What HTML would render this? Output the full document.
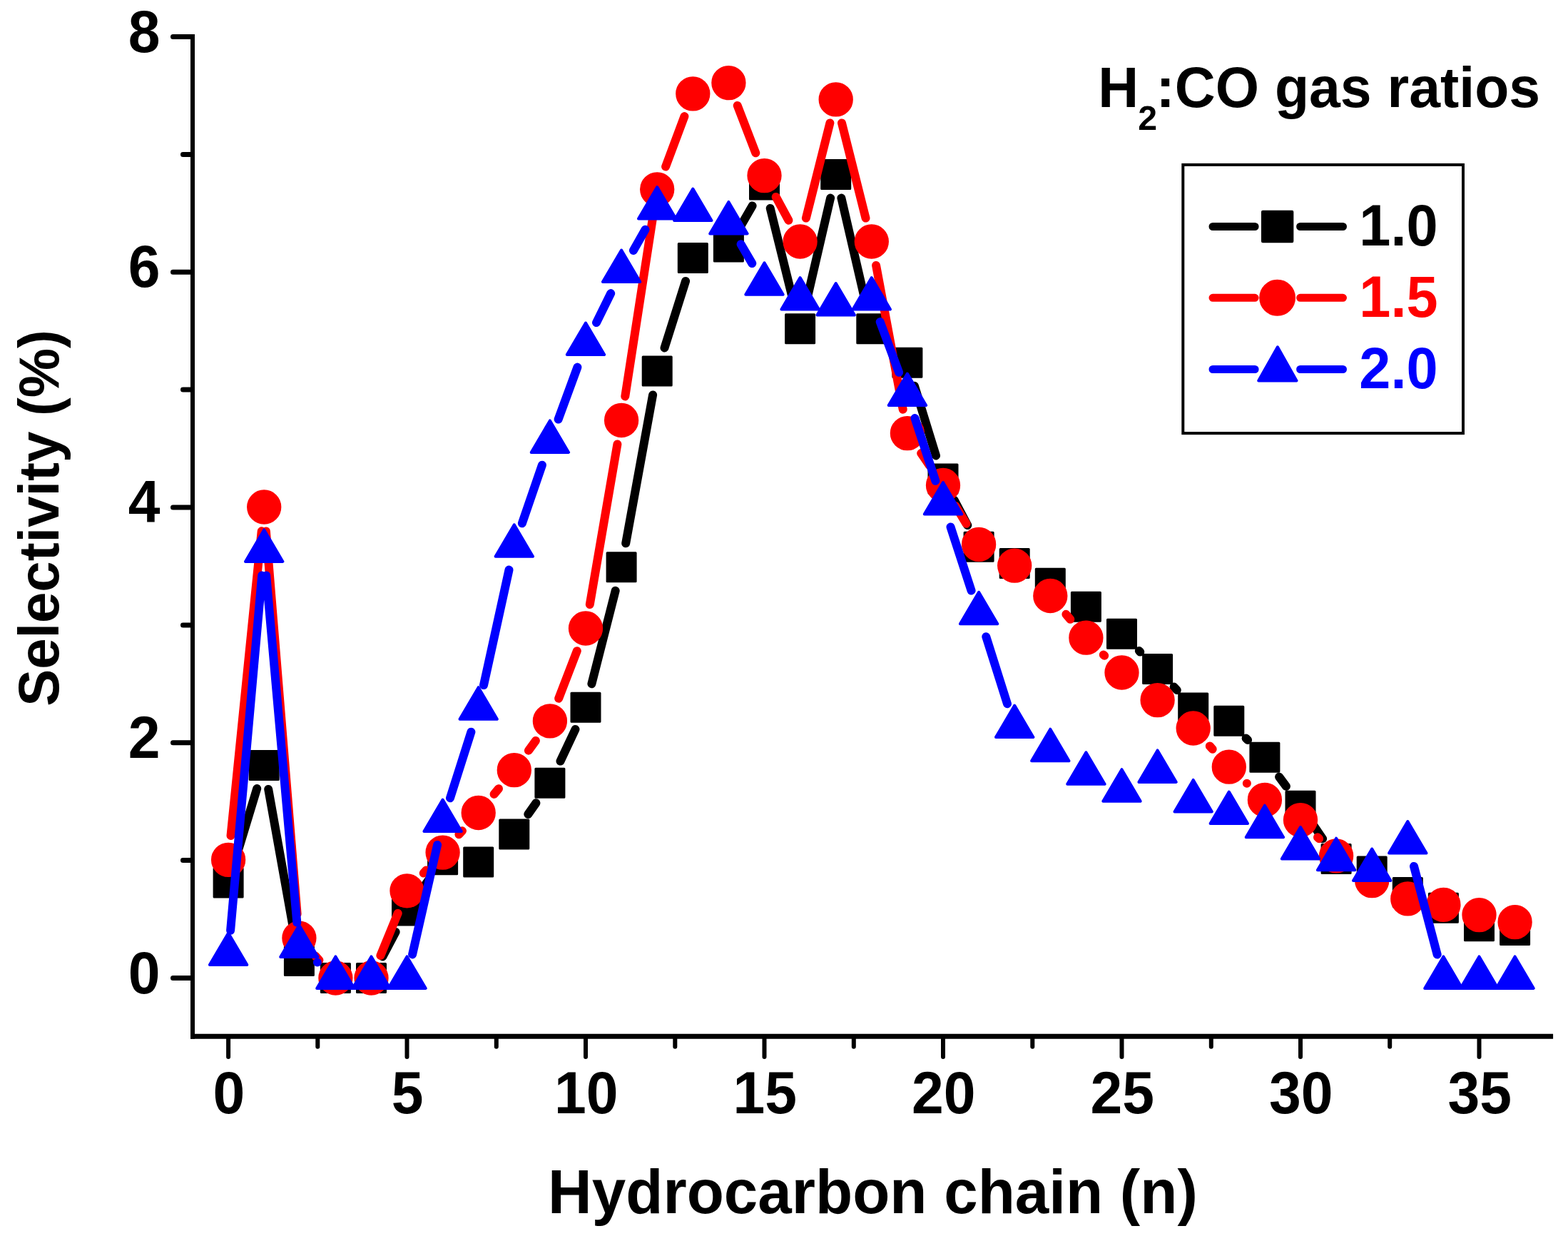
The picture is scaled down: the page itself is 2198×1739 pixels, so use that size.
<!DOCTYPE html>
<html lang="en"><head><meta charset="utf-8"><title>Selectivity vs hydrocarbon chain</title>
<style>
html,body{margin:0;padding:0;background:#fff;}
body{width:2198px;height:1739px;overflow:hidden;}
svg{display:block;}
text{font-family:"Liberation Sans",sans-serif;font-weight:bold;}
.ln{fill:none;stroke-width:12;stroke-linecap:round;}
</style></head><body>
<svg width="2198" height="1739" viewBox="0 0 2198 1739" role="img" aria-label="Selectivity (%) versus hydrocarbon chain length (n) for three H2:CO gas ratios">
<rect width="2198" height="1739" fill="#fff"/>
<g fill="none" stroke="#000" stroke-linecap="round">
<path stroke-width="7" d="M269 1370.5H242.5M269 1205.6H256.5M269 1040.8H242.5M269 875.9H256.5M269 711H242.5M269 546.1H256.5M269 381.2H242.5M269 216.4H256.5M269 51.5H242.5"/>
<path stroke-width="6" d="M320.1 1453.3V1481.1M445.3 1453.3V1466.7M570.5 1453.3V1481.1M695.8 1453.3V1466.7M821 1453.3V1481.1M946.3 1453.3V1466.7M1071.5 1453.3V1481.1M1196.8 1453.3V1466.7M1322 1453.3V1481.1M1447.3 1453.3V1466.7M1572.5 1453.3V1481.1M1697.8 1453.3V1466.7M1823 1453.3V1481.1M1948.2 1453.3V1466.7M2073.5 1453.3V1481.1"/>
<path stroke-width="6" stroke-linecap="butt" d="M270 48V1455.8"/>
<path stroke-width="7" stroke-linecap="butt" d="M267 1452.3H2177.1"/>
</g>
<g fill="#000">
<text transform="translate(224.6 1391.6) scale(0.965 1)" font-size="83.4" text-anchor="end">0</text>
<text transform="translate(224.6 1061.8) scale(0.965 1)" font-size="83.4" text-anchor="end">2</text>
<text transform="translate(224.6 732.1) scale(0.965 1)" font-size="83.4" text-anchor="end">4</text>
<text transform="translate(224.6 402.4) scale(0.965 1)" font-size="83.4" text-anchor="end">6</text>
<text transform="translate(224.6 72.6) scale(0.965 1)" font-size="83.4" text-anchor="end">8</text>
<text transform="translate(320.8 1560.2) scale(0.965 1)" font-size="83.4" text-anchor="middle">0</text>
<text transform="translate(571.2 1560.2) scale(0.965 1)" font-size="83.4" text-anchor="middle">5</text>
<text transform="translate(821.7 1560.2) scale(0.965 1)" font-size="83.4" text-anchor="middle">10</text>
<text transform="translate(1072.2 1560.2) scale(0.965 1)" font-size="83.4" text-anchor="middle">15</text>
<text transform="translate(1322.7 1560.2) scale(0.965 1)" font-size="83.4" text-anchor="middle">20</text>
<text transform="translate(1573.2 1560.2) scale(0.965 1)" font-size="83.4" text-anchor="middle">25</text>
<text transform="translate(1823.7 1560.2) scale(0.965 1)" font-size="83.4" text-anchor="middle">30</text>
<text transform="translate(2074.2 1560.2) scale(0.965 1)" font-size="83.4" text-anchor="middle">35</text>
</g>
<text transform="translate(1223.5 1700) scale(0.9815 1)" font-size="87" text-anchor="middle">Hydrocarbon chain (n)</text>
<text transform="translate(81.7 725.9) rotate(-90) scale(0.967 1)" font-size="80.5" text-anchor="middle">Selectivity (%)</text>
<g fill="#000" stroke="#000">
<path class="ln" d="M330 1204.4L360.2 1105.1M376.2 1106L413.3 1313.1M536.4 1340.5L554.6 1305.9M590.1 1248.1L601.1 1232.6M740.3 1141L751.4 1125.2M785.5 1066.6L806.5 1022M829.4 958.3L862.7 827.7M877.2 761.3L915.1 553.4M931.5 487.5L961.1 393.9M1038.4 316.5L1054.6 288.4M1079.7 291.9L1113.4 427.7M1129.3 427.6L1164.1 277.5M1179.4 277.5L1214.2 427.6M1246.5 484.1L1247.2 484.8M1281.9 540.7L1312 638.4M1337.8 701L1356.3 736.1M1596.8 912L1598.3 913.6M1645.6 962.5L1649.8 967M1746.6 1034.5L1749.1 1037M1793.1 1088.6L1802.9 1101.9M1842 1157.5L1854.1 1175.3"/>
<g stroke-linejoin="round">
<rect x="300.1" y="1217" width="40" height="40" stroke-width="3"/><rect x="350.2" y="1052.6" width="40" height="40" stroke-width="3"/><rect x="399.4" y="1326.6" width="40" height="40" stroke-width="3"/><rect x="450.4" y="1350.5" width="40" height="40" stroke-width="3"/><rect x="500.5" y="1350.5" width="40" height="40" stroke-width="3"/><rect x="550.5" y="1255.9" width="40" height="40" stroke-width="3"/><rect x="600.6" y="1184.8" width="40" height="40" stroke-width="3"/><rect x="650.7" y="1187.9" width="40" height="40" stroke-width="3"/><rect x="700.8" y="1148.9" width="40" height="40" stroke-width="3"/><rect x="750.9" y="1077.3" width="40" height="40" stroke-width="3"/><rect x="801" y="971.3" width="40" height="40" stroke-width="3"/><rect x="851.1" y="774.8" width="40" height="40" stroke-width="3"/><rect x="901.2" y="499.9" width="40" height="40" stroke-width="3"/><rect x="951.3" y="341.5" width="40" height="40" stroke-width="3"/><rect x="1001.4" y="326" width="40" height="40" stroke-width="3"/><rect x="1051.5" y="238.9" width="40" height="40" stroke-width="3"/><rect x="1101.6" y="440.7" width="40" height="40" stroke-width="3"/><rect x="1151.7" y="224.4" width="40" height="40" stroke-width="3"/><rect x="1201.8" y="440.7" width="40" height="40" stroke-width="3"/><rect x="1251.9" y="488.2" width="40" height="40" stroke-width="3"/><rect x="1302" y="650.9" width="40" height="40" stroke-width="3"/><rect x="1352.1" y="746.2" width="40" height="40" stroke-width="3"/><rect x="1402.2" y="769.6" width="40" height="40" stroke-width="3"/><rect x="1452.3" y="797.2" width="40" height="40" stroke-width="3"/><rect x="1502.4" y="830.2" width="40" height="40" stroke-width="3"/><rect x="1552.5" y="868.2" width="40" height="40" stroke-width="3"/><rect x="1602.6" y="917.4" width="40" height="40" stroke-width="3"/><rect x="1652.7" y="972.1" width="40" height="40" stroke-width="3"/><rect x="1702.8" y="990.2" width="40" height="40" stroke-width="3"/><rect x="1752.9" y="1041.2" width="40" height="40" stroke-width="3"/><rect x="1803" y="1109.3" width="40" height="40" stroke-width="3"/><rect x="1853.1" y="1183.5" width="40" height="40" stroke-width="3"/><rect x="1903.2" y="1201.1" width="40" height="40" stroke-width="3"/><rect x="1953.3" y="1230.6" width="40" height="40" stroke-width="3"/><rect x="2003.4" y="1252.2" width="40" height="40" stroke-width="3"/><rect x="2053.5" y="1277.8" width="40" height="40" stroke-width="3"/><rect x="2103.6" y="1283.4" width="40" height="40" stroke-width="3"/>
</g></g>
<g fill="#f00" stroke="#f00">
<path class="ln" d="M323.5 1171L366.7 744.3M372.9 744.4L416.6 1280.7M442.3 1339.7L447.4 1345.4M533.4 1339L557.7 1279.8M593.7 1223.5L597.5 1219.4M643.4 1169.3L648 1164.3M692.6 1112.9L699 1105.2M740.9 1051.7L750.9 1037.9M783.2 978.7L808.8 912.2M826.8 847L865.4 622.5M876.3 555.4L916 298.9M933.1 233.5L959.4 163.1M1033.7 147.9L1059.3 214.3M1087.7 275.9L1105.4 308.7M1129.9 305.6L1163.4 172.4M1180 172.4L1213.5 305.6M1228.1 372L1265.7 573.7M1291.2 635.1L1302.8 652M1339.6 709.1L1354.5 733.8M1494.4 860.8L1500.3 867.8M1546.8 917.4L1548.2 918.8M1695.8 1045.4L1699.7 1049.7M1747.8 1097.8L1747.9 1097.8M1847 1173.2L1849.1 1175.3"/>
<g stroke-linejoin="round">
<circle cx="320.1" cy="1204.8" r="23.4" stroke-width="1.5"/><circle cx="370.2" cy="710.5" r="23.4" stroke-width="1.5"/><circle cx="419.4" cy="1314.6" r="23.4" stroke-width="1.5"/><circle cx="470.4" cy="1370.5" r="23.4" stroke-width="1.5"/><circle cx="520.5" cy="1370.5" r="23.4" stroke-width="1.5"/><circle cx="570.5" cy="1248.3" r="23.4" stroke-width="1.5"/><circle cx="620.6" cy="1194.6" r="23.4" stroke-width="1.5"/><circle cx="670.7" cy="1139" r="23.4" stroke-width="1.5"/><circle cx="720.8" cy="1079.2" r="23.4" stroke-width="1.5"/><circle cx="770.9" cy="1010.4" r="23.4" stroke-width="1.5"/><circle cx="821" cy="880.5" r="23.4" stroke-width="1.5"/><circle cx="871.1" cy="589" r="23.4" stroke-width="1.5"/><circle cx="921.2" cy="265.3" r="23.4" stroke-width="1.5"/><circle cx="971.3" cy="131.3" r="23.4" stroke-width="1.5"/><circle cx="1021.4" cy="116.1" r="23.4" stroke-width="1.5"/><circle cx="1071.5" cy="246.1" r="23.4" stroke-width="1.5"/><circle cx="1121.6" cy="338.5" r="23.4" stroke-width="1.5"/><circle cx="1171.7" cy="139.4" r="23.4" stroke-width="1.5"/><circle cx="1221.8" cy="338.5" r="23.4" stroke-width="1.5"/><circle cx="1271.9" cy="607.1" r="23.4" stroke-width="1.5"/><circle cx="1322" cy="680" r="23.4" stroke-width="1.5"/><circle cx="1372.1" cy="762.9" r="23.4" stroke-width="1.5"/><circle cx="1422.2" cy="792.6" r="23.4" stroke-width="1.5"/><circle cx="1472.3" cy="835" r="23.4" stroke-width="1.5"/><circle cx="1522.4" cy="893.7" r="23.4" stroke-width="1.5"/><circle cx="1572.5" cy="942.5" r="23.4" stroke-width="1.5"/><circle cx="1622.6" cy="981.1" r="23.4" stroke-width="1.5"/><circle cx="1672.7" cy="1020.5" r="23.4" stroke-width="1.5"/><circle cx="1722.8" cy="1074.7" r="23.4" stroke-width="1.5"/><circle cx="1772.9" cy="1120.9" r="23.4" stroke-width="1.5"/><circle cx="1823" cy="1149.1" r="23.4" stroke-width="1.5"/><circle cx="1873.1" cy="1199.4" r="23.4" stroke-width="1.5"/><circle cx="1923.2" cy="1234.1" r="23.4" stroke-width="1.5"/><circle cx="1973.3" cy="1259.4" r="23.4" stroke-width="1.5"/><circle cx="2023.4" cy="1267.9" r="23.4" stroke-width="1.5"/><circle cx="2073.5" cy="1282.1" r="23.4" stroke-width="1.5"/><circle cx="2123.6" cy="1292.2" r="23.4" stroke-width="1.5"/>
</g></g>
<g fill="#00f" stroke="#00f">
<path class="ln" d="M323.1 1303.8L367.2 806.4M373.2 806.4L416.3 1292.6M444.9 1348.5h0M578.1 1337.4L613.1 1183.9M631 1118.3L660.4 1025.7M678 960.1L713.5 798.6M731.9 733.3L759.9 651.7M782.6 587.6L809.4 514.6M836 452.1L856.2 411.1M887.9 351L904.5 321.8M1038.6 342.3L1054.3 369.1M1233.7 451L1260.1 521.8M1282.5 586L1311.4 673.8M1332.5 738.4L1361.6 827.6M1382.3 892.3L1412 986.2M1982 1213.9L2014.7 1337.6"/>
<g stroke-linejoin="round">
<path d="M320.1 1307.6L346.3 1352.1L293.9 1352.1Z" stroke-width="4"/><path d="M370.2 742.4L396.4 786.9L344 786.9Z" stroke-width="4"/><path d="M419.4 1296.4L445.6 1340.9L393.2 1340.9Z" stroke-width="4"/><path d="M470.4 1340.4L496.6 1384.9L444.2 1384.9Z" stroke-width="4"/><path d="M520.5 1340.4L546.7 1384.9L494.3 1384.9Z" stroke-width="4"/><path d="M570.5 1340.4L596.8 1384.9L544.3 1384.9Z" stroke-width="4"/><path d="M620.6 1120.6L646.8 1165.1L594.4 1165.1Z" stroke-width="4"/><path d="M670.7 963.2L696.9 1007.7L644.5 1007.7Z" stroke-width="4"/><path d="M720.8 735.3L747 779.8L694.6 779.8Z" stroke-width="4"/><path d="M770.9 589.4L797.1 633.9L744.7 633.9Z" stroke-width="4"/><path d="M821 452.5L847.2 497L794.8 497Z" stroke-width="4"/><path d="M871.1 350.5L897.3 395L844.9 395Z" stroke-width="4"/><path d="M921.2 262.1L947.4 306.6L895 306.6Z" stroke-width="4"/><path d="M971.3 264.6L997.5 309.1L945.1 309.1Z" stroke-width="4"/><path d="M1021.4 282.9L1047.6 327.4L995.2 327.4Z" stroke-width="4"/><path d="M1071.5 368.3L1097.7 412.8L1045.3 412.8Z" stroke-width="4"/><path d="M1121.6 389.1L1147.8 433.6L1095.4 433.6Z" stroke-width="4"/><path d="M1171.7 397L1197.9 441.5L1145.5 441.5Z" stroke-width="4"/><path d="M1221.8 389.1L1248 433.6L1195.6 433.6Z" stroke-width="4"/><path d="M1271.9 523.6L1298.1 568.1L1245.7 568.1Z" stroke-width="4"/><path d="M1322 676L1348.2 720.5L1295.8 720.5Z" stroke-width="4"/><path d="M1372.1 829.8L1398.3 874.3L1345.9 874.3Z" stroke-width="4"/><path d="M1422.2 988.6L1448.4 1033.1L1396 1033.1Z" stroke-width="4"/><path d="M1472.3 1021.7L1498.5 1066.2L1446.1 1066.2Z" stroke-width="4"/><path d="M1522.4 1054.3L1548.6 1098.8L1496.2 1098.8Z" stroke-width="4"/><path d="M1572.5 1078.2L1598.7 1122.7L1546.3 1122.7Z" stroke-width="4"/><path d="M1622.6 1051.4L1648.8 1095.9L1596.4 1095.9Z" stroke-width="4"/><path d="M1672.7 1092.9L1698.9 1137.4L1646.5 1137.4Z" stroke-width="4"/><path d="M1722.8 1109.6L1749 1154.1L1696.6 1154.1Z" stroke-width="4"/><path d="M1772.9 1128.7L1799.1 1173.2L1746.7 1173.2Z" stroke-width="4"/><path d="M1823 1159L1849.2 1203.5L1796.8 1203.5Z" stroke-width="4"/><path d="M1873.1 1174.7L1899.3 1219.2L1846.9 1219.2Z" stroke-width="4"/><path d="M1923.2 1189.5L1949.4 1234L1897 1234Z" stroke-width="4"/><path d="M1973.3 1151L1999.5 1195.5L1947.1 1195.5Z" stroke-width="4"/><path d="M2023.4 1340.4L2049.6 1384.9L1997.2 1384.9Z" stroke-width="4"/><path d="M2073.5 1340.4L2099.7 1384.9L2047.3 1384.9Z" stroke-width="4"/><path d="M2123.6 1340.4L2149.8 1384.9L2097.4 1384.9Z" stroke-width="4"/>
</g></g>
<text transform="translate(1539.3 149.8) scale(0.985 1)" font-size="80" fill="#000">H<tspan font-size="49" dx="-1" dy="32.4">2</tspan><tspan dx="-1.5" dy="-32.4">:CO gas ratios</tspan></text>
<rect x="1658.3" y="230.9" width="392.7" height="376.2" fill="#fff" stroke="#000" stroke-width="4"/>
<g fill="#000" stroke="#000">
<path class="ln" stroke-width="11" style="stroke-width:11" d="M1700 317.5H1759.1M1822.6 317.5H1882.5"/>
<g stroke-linejoin="round"><rect x="1770.2" y="297.1" width="40.9" height="40.9" stroke-width="4.5"/></g>
<text transform="translate(1960.5 343.7) scale(0.976 1)" font-size="81.3" text-anchor="middle" stroke="none">1.0</text>
</g>
<g fill="#f00" stroke="#f00">
<path class="ln" stroke-width="11" style="stroke-width:11" d="M1700 417.3H1759.1M1822.6 417.3H1882.5"/>
<g stroke-linejoin="round"><circle cx="1790.6" cy="417.3" r="24.7" stroke-width="1.5"/></g>
<text transform="translate(1960.5 443.5) scale(0.976 1)" font-size="81.3" text-anchor="middle" stroke="none">1.5</text>
</g>
<g fill="#00f" stroke="#00f">
<path class="ln" stroke-width="11" style="stroke-width:11" d="M1700 517.5H1759.1M1822.6 517.5H1882.5"/>
<g stroke-linejoin="round"><path d="M1790.9 486.3L1817.5 533.4L1764.2 533.4Z" stroke-width="4"/></g>
<text transform="translate(1960.5 543.7) scale(0.976 1)" font-size="81.3" text-anchor="middle" stroke="none">2.0</text>
</g>
</svg></body></html>
